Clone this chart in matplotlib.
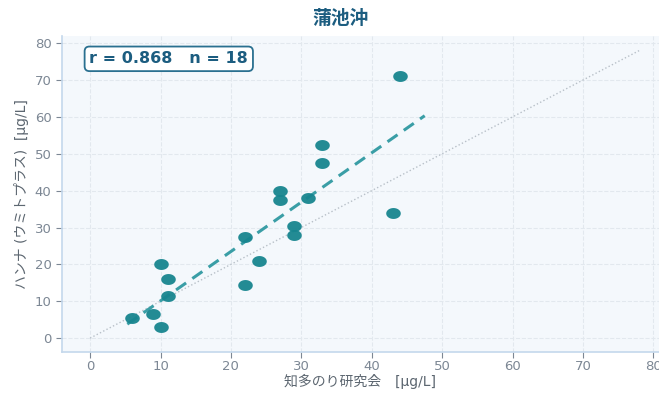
import matplotlib.pyplot as plt
from matplotlib.path import Path
import numpy as np

plt.rcParams['font.family'] = ['DejaVu Sans', 'Noto Sans CJK JP']

title = "蒲池沖"
x_label = "知多のり研究会　[μg/L]"
y_label = "ハンナ (ウミトプラス)  [μg/L]"

# 知多のり研究会 vs ハンナ
chita = [6, 9, 10, 10, 11, 11, 22, 22, 24, 27, 27, 29, 29, 31, 33, 33, 43, 44]
hanna = [5.5, 6.5, 3, 20, 16, 11.5, 27.5, 14.5, 21, 40, 37.5, 30.5, 28, 38, 52.5, 47.5, 34, 71]
r_value = 0.868
n_value = len(chita)

x = np.array(chita)
y = np.array(hanna)
slope, intercept = np.polyfit(x, y, 1)
fit_x = np.array([x.min() * 0.88, x.max() * 1.08])

# slightly flattened marker
t = np.linspace(0, 2 * np.pi, 60)
ell = Path(np.column_stack([np.cos(t), 0.75 * np.sin(t)]), closed=True)

fig = plt.figure(figsize=(6.59, 3.93), dpi=100)
ax = fig.add_axes([0.094, 0.104, 0.906, 0.804])
ax.set_facecolor('#f4f8fc')

ax.plot([0, 78], [0, 78], ls=':', color='#b8c0c8', lw=1, zorder=1)
ax.plot(fit_x, slope * fit_x + intercept, ls='--', color='#3a9ea6', lw=2.2,
        dashes=(4, 2.5), zorder=2)
ax.scatter(x, y, s=110, marker=ell, color='#17858f', alpha=0.95, lw=0, zorder=3)

ax.set_xlim(-4, 80.8)
ax.set_ylim(-3.8, 81.9)
ax.set_xticks(range(0, 81, 10))
ax.set_yticks(range(0, 81, 10))
ax.grid(True, ls='--', color='#e2e8ee', lw=0.8)
ax.set_axisbelow(True)

for side in ['top', 'right']:
    ax.spines[side].set_visible(False)
for side in ['left', 'bottom']:
    ax.spines[side].set_color('#c4d8ec')
    ax.spines[side].set_linewidth(1.2)
ax.tick_params(colors='#7c8794', labelsize=9.5, length=4)
ax.tick_params(axis='x', pad=2)

ax.set_xlabel(x_label, color='#5c6670', fontsize=10, labelpad=0)
ax.set_ylabel(y_label, color='#5c6670', fontsize=10, labelpad=4)
fig.text(0.516, 0.952, title, ha='center', va='center', fontsize=13.5,
         fontweight='bold', color='#1c5d80')

ax.text(0.046, 0.952, f"r = {r_value:.3f}   n = {n_value}", transform=ax.transAxes,
        ha='left', va='top', fontsize=11.5, fontweight='bold', color='#1c5d80',
        bbox=dict(boxstyle='round,pad=0.3', fc='white', ec='#2a7090', lw=1.3))

fig.savefig("out.png", dpi=100)
